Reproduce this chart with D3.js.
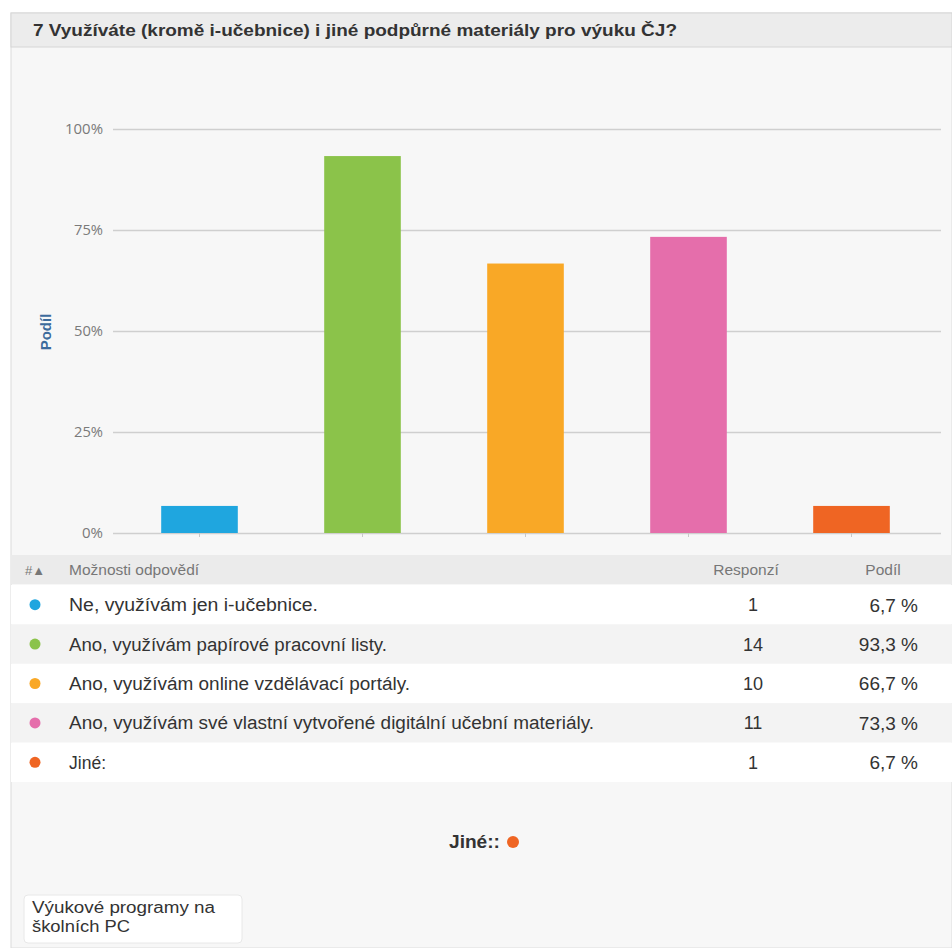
<!DOCTYPE html>
<html>
<head>
<meta charset="utf-8">
<script src="https://cdn.jsdelivr.net/npm/d3@7"></script>
<style>
  html, body { margin: 0; padding: 0; background: #ffffff; }
  svg { display: block; font-family: "Liberation Sans", Arial, sans-serif; }
</style>
</head>
<body>
<svg id="chart" width="952" height="948"></svg>
<script>
// Survey question 7: share of respondents per answer option
const title = "7 Využíváte (kromě i-učebnice) i jiné podpůrné materiály pro výuku ČJ?";
const categories = [
  "Ne, využívám jen i-učebnice.",
  "Ano, využívám papírové pracovní listy.",
  "Ano, využívám online vzdělávací portály.",
  "Ano, využívám své vlastní vytvořené digitální učební materiály.",
  "Jiné:"
];
const responses = [1, 14, 10, 11, 1];
const shares = [6.7, 93.3, 66.7, 73.3, 6.7];
const colors = ["#1fa6df", "#8bc34a", "#f9a826", "#e56eab", "#ef6523"];
const yTicks = [0, 25, 50, 75, 100];
const tableHeaders = ["#▲", "Možnosti odpovědí", "Responzí", "Podíl"];
const otherLabel = "Jiné::";
const otherAnswers = [["Výukové programy na", "školních PC"]];

const svg = d3.select("#chart");
const W = 952;

// panel background and title bar
svg.append("rect").attr("x", 11).attr("y", 13).attr("width", W - 11).attr("height", 948 - 13)
  .attr("fill", "#f7f7f7").attr("stroke", "#dcdcdc");
svg.append("rect").attr("x", 11).attr("y", 13).attr("width", W - 11).attr("height", 34)
  .attr("fill", "#ececec").attr("stroke", "#d6d6d6");
svg.append("text").attr("x", 33).attr("y", 36)
  .attr("font-size", 16).attr("font-weight", "bold").attr("fill", "#333")
  .attr("textLength", 644).attr("lengthAdjust", "spacingAndGlyphs")
  .text(title);

// chart scales
const x = d3.scaleBand().domain(categories).range([118, 933]).paddingInner(0.53).paddingOuter(0.265);
const y = d3.scaleLinear().domain([0, 100]).range([533, 129]);

// horizontal grid with percentage labels
const yAxis = svg.append("g").attr("transform", "translate(113,0)")
  .call(d3.axisLeft(y).tickValues(yTicks).tickSize(-828).tickFormat(d => d + "%"));
yAxis.select(".domain").remove();
yAxis.selectAll(".tick line").attr("stroke", "#cfcfcf").attr("stroke-width", 1.3);
yAxis.selectAll(".tick text").attr("x", -10).attr("fill", "#7a7a7a")
  .attr("font-family", "'Open Sans', sans-serif").attr("font-size", 14)
  .attr("textLength", d => d === 100 ? 38 : d === 0 ? 21 : 29).attr("lengthAdjust", "spacingAndGlyphs");

// category ticks under the baseline
const xAxis = svg.append("g").attr("transform", "translate(0,533)")
  .call(d3.axisBottom(x).tickSize(4).tickFormat(""));
xAxis.select(".domain").remove();
xAxis.selectAll(".tick line").attr("stroke", "#c8c8c8");

svg.append("text")
  .attr("transform", "translate(51,332) rotate(-90)")
  .attr("text-anchor", "middle").attr("font-size", 15).attr("font-weight", "bold")
  .attr("fill", "#3d6b9c").text("Podíl");

// bars
svg.append("g").selectAll("rect").data(categories).join("rect")
  .attr("x", d => x(d)).attr("width", x.bandwidth())
  .attr("y", (d, i) => y(shares[i])).attr("height", (d, i) => y(0) - y(shares[i]))
  .attr("fill", (d, i) => colors[i]);

// answers table
const tableTop = 555, headH = 29, rowH = 39.4;
svg.append("rect").attr("x", 11).attr("y", tableTop).attr("width", W - 11).attr("height", headH).attr("fill", "#ebebeb");
const hy = tableTop + 20;
const head = svg.append("g").attr("font-size", 15.5).attr("fill", "#777");
head.append("text").attr("x", 25).attr("y", hy).attr("font-size", 13).text(tableHeaders[0]);
head.append("text").attr("x", 69).attr("y", hy).text(tableHeaders[1]);
head.append("text").attr("x", 746).attr("y", hy).attr("text-anchor", "middle").text(tableHeaders[2]);
head.append("text").attr("x", 883).attr("y", hy).attr("text-anchor", "middle").text(tableHeaders[3]);

const rows = svg.append("g").selectAll("g").data(categories).join("g")
  .attr("transform", (d, i) => `translate(0,${tableTop + headH + 1 + i * rowH})`);
rows.append("rect").attr("x", 11).attr("width", W - 11).attr("height", rowH)
  .attr("fill", (d, i) => i % 2 === 0 ? "#ffffff" : "#f3f3f3");
rows.append("circle").attr("cx", 35).attr("cy", rowH / 2).attr("r", 5.5)
  .attr("fill", (d, i) => colors[i]);
const labelWidths = [249, 318, 341, 525, 37];
rows.append("text").attr("x", 69).attr("y", rowH / 2 + 6.5).attr("font-size", 18).attr("fill", "#333")
  .attr("textLength", (d, i) => labelWidths[i]).attr("lengthAdjust", "spacingAndGlyphs")
  .text(d => d);
rows.append("text").attr("x", 753).attr("y", rowH / 2 + 6.5).attr("font-size", 18).attr("fill", "#333")
  .attr("text-anchor", "middle").text((d, i) => responses[i]);
rows.append("text").attr("x", 918).attr("y", rowH / 2 + 7).attr("font-size", 19).attr("fill", "#333")
  .attr("text-anchor", "end").text((d, i) => d3.format(".1f")(shares[i]).replace(".", ",") + " %");

// free-text answers for the "other" option
svg.append("text").attr("x", 449).attr("y", 848).attr("font-size", 18).attr("font-weight", "bold")
  .attr("fill", "#333").attr("textLength", 51).attr("lengthAdjust", "spacingAndGlyphs").text(otherLabel);
svg.append("circle").attr("cx", 513).attr("cy", 842).attr("r", 6).attr("fill", colors[4]);

const box = svg.append("g").attr("transform", "translate(24,895)");
box.append("rect").attr("width", 218).attr("height", 48).attr("rx", 4)
  .attr("fill", "#ffffff").attr("stroke", "#e8e8e8");
const boxWidths = [183, 98];
otherAnswers[0].forEach((line, i) => {
  box.append("text").attr("x", 8).attr("y", 18 + i * 18.5).attr("font-size", 16).attr("fill", "#333")
    .attr("textLength", boxWidths[i]).attr("lengthAdjust", "spacingAndGlyphs")
    .text(line);
});
</script>
</body>
</html>
